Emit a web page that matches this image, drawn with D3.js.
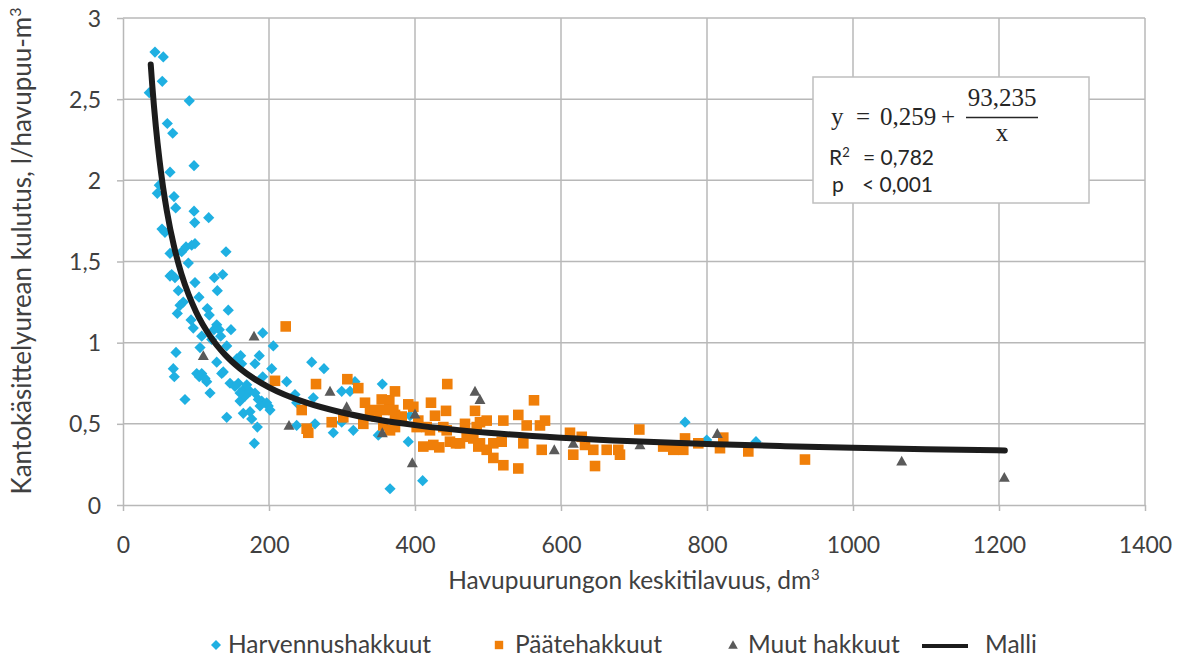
<!DOCTYPE html>
<html><head><meta charset="utf-8">
<script src="https://cdn.jsdelivr.net/npm/d3@7"></script>
<style>body{margin:0;background:#fff} text{font-family:Lato,"Open Sans",sans-serif}</style>
</head><body><svg id="c" width="1179" height="656"></svg>
<script>
const xTicks=[0,200,400,600,800,1000,1200,1400];
const yTicks=[0,0.5,1,1.5,2,2.5,3];
const seriesNames=["Harvennushakkuut","Päätehakkuut","Muut hakkuut","Malli"];

const blueX=[43.8,55.2,53.8,36,90.8,60.7,68.1,97.3,64.4,49.7,47,69.9,72.2,97.3,117.4,98.2,53.4,57.5,80.4,86.3,94.1,98.6,141.1,64.4,89.5,66.7,71.2,64.4,125.1,136.6,98.6,75.8,129.2,104.1,82.6,78.1,74.4,115.5,118.2,144.2,93.2,96.3,128.4,131.9,124.7,147.9,107.8,191.4,133.8,121.5,205.9,105.5,72.6,142.1,128.4,137.4,186.7,155.8,161.2,180.8,68.9,70.3,101,107.8,104.5,114.7,146.6,157.9,153.4,164.8,174,180.8,169.5,203.7,191.4,224.2,119.2,84.9,160.3,190,196.8,167.1,162.6,135.2,258.5,275.3,112.3,299.6,311,160.3,185.3,199,187.7,201.4,164.8,174,176.3,142.1,237.9,260.7,237.9,263,299.6,288.1,315.5,184,179.9,235.6,317.8,355.2,393.2,349.7,390.8,410.5,365.8,769.9,799.6,867.1];
const blueY=[2.79,2.76,2.61,2.54,2.49,2.35,2.29,2.09,2.05,1.97,1.92,1.90,1.83,1.81,1.77,1.74,1.70,1.68,1.56,1.59,1.60,1.61,1.56,1.55,1.49,1.42,1.40,1.41,1.40,1.42,1.37,1.32,1.32,1.28,1.25,1.23,1.18,1.21,1.17,1.20,1.14,1.09,1.11,1.08,1.08,1.08,1.04,1.06,1.04,1.02,0.98,0.97,0.94,0.98,0.88,0.82,0.92,0.90,0.92,0.87,0.84,0.79,0.81,0.81,0.79,0.76,0.75,0.75,0.73,0.71,0.70,0.69,0.74,0.84,0.79,0.76,0.69,0.65,0.64,0.64,0.63,0.67,0.87,0.81,0.88,0.84,0.78,0.70,0.70,0.69,0.65,0.61,0.61,0.585,0.565,0.575,0.53,0.54,0.63,0.66,0.49,0.50,0.51,0.445,0.46,0.48,0.38,0.68,0.76,0.745,0.55,0.43,0.39,0.15,0.10,0.51,0.40,0.39];

const orangeX=[222.9,208.2,264.4,307.3,322.3,244.8,301.8,285.9,251.6,253.8,372.6,444.2,331.5,354.4,364.8,390.8,397.7,421.9,442.5,482.2,338.4,345.2,347.5,356.6,370.3,372.6,381.8,404.5,402.3,416,420.5,427.4,438.8,443.4,468.5,471.6,484.5,329.2,356.6,365.8,372.6,411.4,425.1,433.3,447.9,456.2,486.7,563,489,498.2,521,541.5,553,571.2,578.1,461.6,470.8,479.9,489,498.2,507.3,518.8,548.4,573.6,507.3,521,541.5,612.3,628.4,616.8,632.9,644.2,646.6,662.6,678.5,680.8,707.3,740,753.8,767.5,769.9,788.1,822.3,817.8,856.6,934.2];
const orangeY=[1.10,0.765,0.745,0.775,0.72,0.585,0.54,0.51,0.47,0.445,0.70,0.745,0.63,0.65,0.645,0.62,0.605,0.63,0.58,0.58,0.575,0.585,0.545,0.585,0.585,0.555,0.545,0.52,0.48,0.48,0.46,0.55,0.48,0.46,0.50,0.44,0.48,0.50,0.49,0.46,0.48,0.36,0.37,0.355,0.39,0.38,0.36,0.645,0.51,0.52,0.52,0.555,0.49,0.49,0.52,0.38,0.42,0.41,0.38,0.34,0.38,0.39,0.38,0.34,0.29,0.245,0.225,0.445,0.42,0.31,0.37,0.34,0.24,0.34,0.34,0.31,0.465,0.36,0.34,0.34,0.41,0.38,0.415,0.35,0.33,0.28];

const greyX=[179.5,110,283.6,306.4,227.4,355.2,400,396.3,482.2,489,590.8,616.8,708.2,814.1,1066.7,1207.3];
const greyY=[1.04,0.92,0.70,0.605,0.49,0.445,0.56,0.26,0.70,0.65,0.34,0.38,0.37,0.44,0.27,0.17];

const modelX=[38,40,45,50,55,60,70,80,90,100,120,140,160,180,200,250,300,350,400,500,600,700,800,900,1000,1100,1208];
const modelY=[2.713,2.590,2.331,2.124,1.954,1.813,1.591,1.424,1.295,1.191,1.036,0.925,0.842,0.777,0.725,0.632,0.570,0.525,0.492,0.445,0.414,0.392,0.376,0.363,0.352,0.344,0.336];

const C={blue:"#1FB0E2",orange:"#F07F09",grey:"#5A5A5A",line:"#1C1C1C",grid:"#B8B8B8",text:"#404040"};
const svg=d3.select("#c");
svg.append("rect").attr("width",1179).attr("height",656).attr("fill","#fff");
const x=d3.scaleLinear().domain([0,1400]).range([123,1145]);
const y=d3.scaleLinear().domain([0,3]).range([505,18]);
const fmt=d=>String(d).replace(".",",");

// grid
svg.append("g").selectAll("line").data(yTicks.filter(d=>d>0)).join("line")
  .attr("x1",x(0)).attr("x2",x(1400)).attr("y1",d=>y(d)).attr("y2",d=>y(d))
  .attr("stroke",C.grid).attr("stroke-width",1.5);
svg.append("g").selectAll("line").data(xTicks.filter(d=>d>0)).join("line")
  .attr("y1",y(0)).attr("y2",y(3)).attr("x1",d=>x(d)).attr("x2",d=>x(d))
  .attr("stroke",C.grid).attr("stroke-width",1.5);

// axes
const gx=svg.append("g").attr("transform",`translate(0,${y(0)})`)
  .call(d3.axisBottom(x).tickValues(xTicks).tickSize(6).tickSizeOuter(0).tickFormat(d3.format("d")));
const gy=svg.append("g").attr("transform",`translate(${x(0)},0)`)
  .call(d3.axisLeft(y).tickValues(yTicks).tickSize(6).tickSizeOuter(0).tickFormat(fmt));
[gx,gy].forEach(g=>{
  g.select(".domain").attr("stroke",C.grid).attr("stroke-width",1.5);
  g.selectAll(".tick line").attr("stroke",C.grid).attr("stroke-width",1.5);
  g.selectAll("text").attr("fill",C.text).style("font-size","23px").style("font-family","Lato");
});
gx.selectAll("text").attr("y",40).attr("dy","0.35em");
gy.selectAll("text").attr("x",-22).attr("dy","0.35em");

// axis titles
const xt=svg.append("text").attr("x",634).attr("y",589).attr("text-anchor","middle")
  .attr("fill",C.text).style("font-size","24.5px");
xt.append("tspan").text("Havupuurungon keskitilavuus, dm");
xt.append("tspan").text("3").attr("dy",-9).style("font-size","15px");
const yt=svg.append("text").attr("transform","translate(31,251) rotate(-90)").attr("text-anchor","middle")
  .attr("fill",C.text).style("font-size","26px");
yt.append("tspan").text("Kantokäsittelyurean kulutus, l/havupuu-m");
yt.append("tspan").text("3").attr("dy",-10).style("font-size","16px");

// markers
const diamond=s=>`M0,${-s}L${s},0L0,${s}L${-s},0Z`;
const square=s=>`M${-s},${-s}H${s}V${s}H${-s}Z`;
const tri=s=>`M0,${-s}L${s},${s*0.8}L${-s},${s*0.8}Z`;

svg.append("g").selectAll("path").data(d3.range(blueX.length)).join("path")
  .attr("d",diamond(5.6)).attr("fill",C.blue)
  .attr("transform",i=>`translate(${x(blueX[i])},${y(blueY[i])})`);
svg.append("g").selectAll("path").data(d3.range(orangeX.length)).join("path")
  .attr("d",square(5.3)).attr("fill",C.orange)
  .attr("transform",i=>`translate(${x(orangeX[i])},${y(orangeY[i])})`);
svg.append("g").selectAll("path").data(d3.range(greyX.length)).join("path")
  .attr("d",tri(5.5)).attr("fill",C.grey)
  .attr("transform",i=>`translate(${x(greyX[i])},${y(greyY[i])})`);

// model line
const line=d3.line().x(i=>x(modelX[i])).y(i=>y(modelY[i])).curve(d3.curveMonotoneX);
svg.append("path").attr("d",line(d3.range(modelX.length))).attr("fill","none")
  .attr("stroke",C.line).attr("stroke-width",6).attr("stroke-linecap","round").attr("stroke-linejoin","round");

// equation box
const bx=svg.append("g");
bx.append("rect").attr("x",813).attr("y",77).attr("width",276).attr("height",126)
  .attr("fill","#fff").attr("stroke","#BFBFBF").attr("stroke-width",1.5);
const serif="'Liberation Serif','DejaVu Serif',serif";
const st=(t,xx,yy,anchor)=>bx.append("text").attr("x",xx).attr("y",yy).attr("text-anchor",anchor||"start")
  .attr("fill","#262626").style("font-family",serif).style("font-size","25px").text(t);
st("y",831,125);
st("=",856,125);
st("0,259",880,125);
st("+",941,125);
st("93,235",1002,106,"middle");
bx.append("line").attr("x1",966).attr("x2",1038).attr("y1",117.5).attr("y2",117.5).attr("stroke","#262626").attr("stroke-width",1.5);
st("x",1002,141,"middle");
const r2=bx.append("text").attr("x",829).attr("y",165).attr("fill","#262626").style("font-size","21px");
r2.append("tspan").text("R");
r2.append("tspan").text("2").attr("dy",-8).style("font-size","13px");
r2.append("tspan").text("= 0,782").attr("x",863).attr("dy",8);
const pt=bx.append("text").attr("x",832).attr("y",192).attr("fill","#262626").style("font-size","21px");
pt.append("tspan").text("p");
pt.append("tspan").text("< 0,001").attr("x",862);

// legend
const lg=svg.append("g").attr("transform","translate(0,645)");
lg.append("path").attr("d",diamond(5)).attr("fill",C.blue).attr("transform","translate(216,0)");
lg.append("path").attr("d",square(4.2)).attr("fill",C.orange).attr("transform","translate(499,0)");
lg.append("path").attr("d",tri(4.8)).attr("fill",C.grey).attr("transform","translate(733,0)");
lg.append("line").attr("x1",922).attr("x2",968).attr("y1",1).attr("y2",1).attr("stroke",C.line).attr("stroke-width",4);
const lx=[228,515,748,985];
seriesNames.forEach((n,i)=>lg.append("text").attr("x",lx[i]).attr("y",7.5)
  .attr("fill",C.text).style("font-size","24.5px").text(n));
</script></body></html>
